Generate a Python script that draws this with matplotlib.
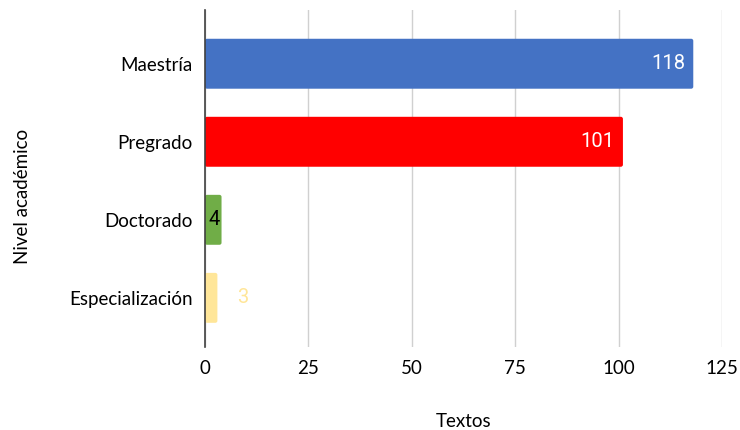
import matplotlib
matplotlib.use('Agg')
import matplotlib.pyplot as plt
from matplotlib.patches import FancyBboxPatch

# datos
niveles = ['Especialización', 'Doctorado', 'Pregrado', 'Maestría']
textos = [3, 4, 101, 118]
colores = ['#FFE699', '#70AD47', '#FF0000', '#4472C4']
color_etiqueta = ['#FFE699', '#000000', '#FFFFFF', '#FFFFFF']

plt.rcParams['font.family'] = ['Lato', 'DejaVu Sans']

fig = plt.figure(figsize=(7.4, 4.3), dpi=100)
ax = fig.add_axes([0.277, 0.193, 0.699, 0.784])

bars = ax.barh(range(len(niveles)), textos, height=0.64, color=colores)

# esquinas redondeadas
for b in bars:
    b.set_visible(False)
    p = FancyBboxPatch((b.get_x(), b.get_y()), b.get_width(), b.get_height(),
                       boxstyle='round,pad=0,rounding_size=0.5',
                       mutation_aspect=0.053,
                       facecolor=b.get_facecolor(), edgecolor='none', zorder=3)
    ax.add_patch(p)

ax.set_xlim(0, 125)
ax.set_ylim(-0.63, 3.69)
ax.set_xticks([0, 25, 50, 75, 100, 125])
ax.set_yticks(range(len(niveles)))
ax.set_yticklabels(niveles)
ax.tick_params(axis='both', length=0, labelsize=13.5, colors='#000000')
ax.tick_params(axis='x', pad=9)
ax.tick_params(axis='y', pad=9)

ax.grid(axis='x', color='#D0D0D0', linewidth=1)
ax.set_axisbelow(True)
for s in ['top', 'right', 'bottom']:
    ax.spines[s].set_visible(False)
ax.spines['left'].set_color('#404040')
ax.spines['left'].set_linewidth(1.2)
ax.spines['left'].set_zorder(4)

# etiquetas de datos
for i, (v, c) in enumerate(zip(textos, color_etiqueta)):
    if v > 50:
        ax.annotate(str(v), (v, i), xytext=(-6, 0), textcoords='offset points',
                    ha='right', va='center', color=c, fontsize=14.5,
                    family=['Roboto', 'DejaVu Sans'], zorder=5)
    elif i == 1:
        ax.annotate(str(v), (v, i), xytext=(-1, 0), textcoords='offset points',
                    ha='right', va='center', color=c, fontsize=14.5,
                    family=['Roboto', 'DejaVu Sans'], zorder=5)
    else:
        ax.annotate(str(v), (v, i), xytext=(18, 0), textcoords='offset points',
                    ha='center', va='center', color=c, fontsize=14.5,
                    family=['Roboto', 'DejaVu Sans'], zorder=5)

ax.set_xlabel('Textos', fontsize=13.5, labelpad=26)
ax.set_ylabel('Nivel académico', fontsize=13.5)
ax.yaxis.set_label_coords(-0.337, 0.448)

fig.savefig('out.png', dpi=100)
